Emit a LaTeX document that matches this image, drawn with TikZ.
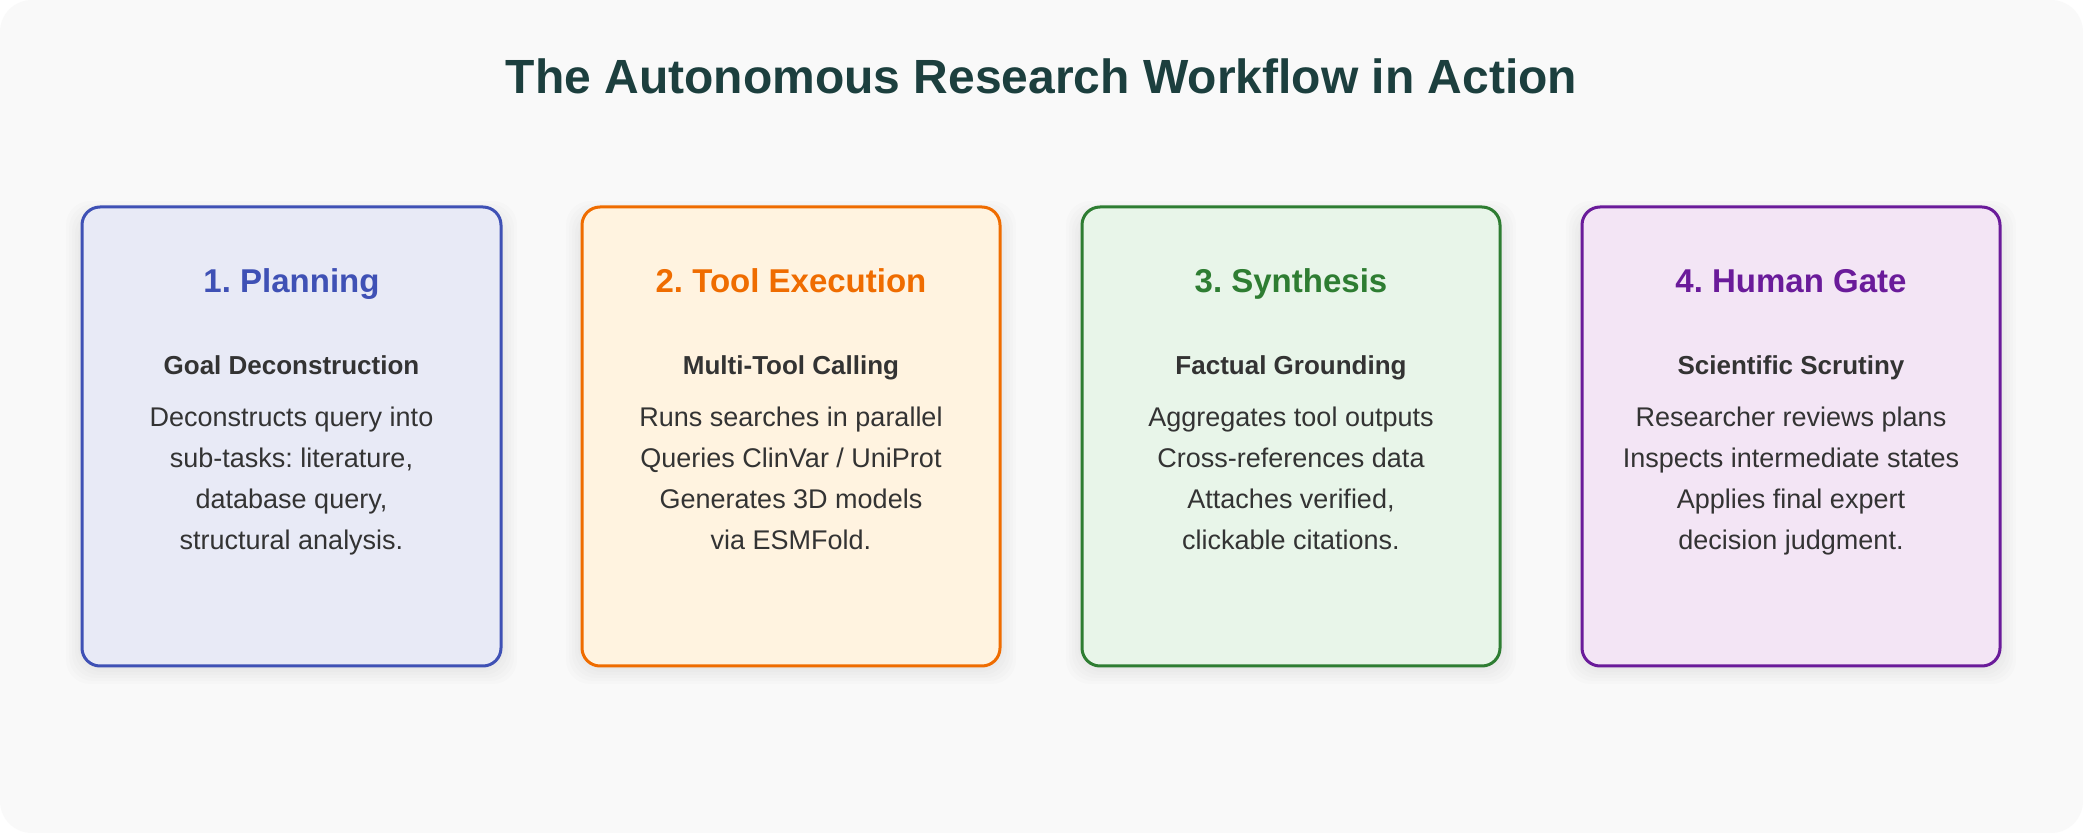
\documentclass[tikz,border=0pt]{standalone}
\usepackage{fontspec}
\setmainfont{Liberation Sans}
\frenchspacing
\definecolor{bgc}{HTML}{F9F9F9}
\definecolor{titlec}{HTML}{1C3F3E}
\definecolor{txt}{HTML}{333333}
\definecolor{bluB}{HTML}{3F51B5}\definecolor{bluF}{HTML}{E8EAF6}
\definecolor{orB}{HTML}{EF6C00}\definecolor{orF}{HTML}{FFF3E0}
\definecolor{grB}{HTML}{2E7D32}\definecolor{grF}{HTML}{E8F5E9}
\definecolor{puB}{HTML}{6A1B9A}\definecolor{puF}{HTML}{F3E5F5}
\tikzset{
  card/.style={draw=#1B, fill=#1F, line width=1.5pt, rounded corners=9pt},
  shadowlayer/.style={fill=black, fill opacity=0.012, rounded corners=12pt},
  head/.style={text=#1B, anchor=base, font=\fontsize{16.5}{20}\selectfont\bfseries},
  sub/.style={text=txt, anchor=base, font=\fontsize{13}{16}\selectfont\bfseries},
  body/.style={text=txt, anchor=base, align=center, font=\fontsize{13.5}{20.5}\selectfont},
  ttl/.style={text=titlec, font=\fontsize{24}{28}\selectfont\bfseries}
}
\begin{document}
\begin{tikzpicture}[x=0.5pt, y=-0.5pt]
\path[fill=white] (0,0) rectangle (2083,833);
\useasboundingbox (0,0) rectangle (2083,833);
\path[fill=bgc, rounded corners=16pt] (0,0) rectangle (2083,833);
\node[ttl] (title) at (1041.5,76) {The Autonomous Research Workflow in Action};
% soft shadows
\foreach \xa/\xb in {82/501, 582/1000, 1082/1500, 1582/2000}{
  \foreach \e in {2,5,8,11,14,17,20}{
    \path[shadowlayer] (\xa-\e+4,207-\e+14) rectangle (\xb+\e-4,666+\e-2);
  }
}
% cards
\path[card=blu] (82,207) rectangle (501,666) coordinate (c1);
\path[card=or] (582,207) rectangle (1000,666) coordinate (c2);
\path[card=gr] (1082,207) rectangle (1500,666) coordinate (c3);
\path[card=pu] (1582,207) rectangle (2000,666) coordinate (c4);
% card 1
\node[head=blu] (h1) at (291.5,293) {1. Planning};
\node[sub] (s1) at (291.5,375) {Goal Deconstruction};
\node[body] (b1) at (291.5,550) {Deconstructs query into\\sub-tasks: literature,\\database query,\\structural analysis.};
% card 2
\node[head=or] (h2) at (791,293) {2. Tool Execution};
\node[sub] (s2) at (791,375) {Multi-Tool Calling};
\node[body] (b2) at (791,550) {Runs searches in parallel\\Queries ClinVar / UniProt\\Generates 3D models\\via ESMFold.};
% card 3
\node[head=gr] (h3) at (1291,293) {3. Synthesis};
\node[sub] (s3) at (1291,375) {Factual Grounding};
\node[body] (b3) at (1291,550) {Aggregates tool outputs\\Cross-references data\\Attaches verified,\\clickable citations.};
% card 4
\node[head=pu] (h4) at (1791,293) {4. Human Gate};
\node[sub] (s4) at (1791,375) {Scientific Scrutiny};
\node[body] (b4) at (1791,550) {Researcher reviews plans\\Inspects intermediate states\\Applies final expert\\decision judgment.};
\end{tikzpicture}
\end{document}
